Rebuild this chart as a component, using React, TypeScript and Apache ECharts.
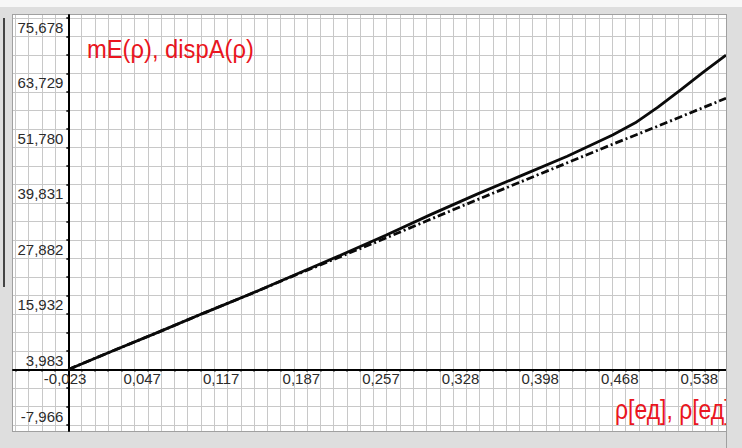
import React, { useEffect, useRef } from "react";
import * as echarts from "echarts";

// ---- data ----
const rhoE = [0, 0.04, 0.08, 0.12, 0.16, 0.2, 0.24, 0.28, 0.32, 0.36, 0.4, 0.44, 0.48, 0.5, 0.52, 0.54, 0.56, 0.58];
const mE = [0, 4.1, 8.1, 12.2, 16.2, 20.4, 24.6, 28.9, 33.4, 37.7, 41.8, 45.9, 50.5, 53.1, 56.5, 60.2, 64.0, 67.7];
const rhoA = [0, 0.04, 0.08, 0.12, 0.16, 0.2, 0.24, 0.28, 0.32, 0.36, 0.4, 0.44, 0.48, 0.52, 0.56, 0.58];
const dispA = [0, 4.1, 8.1, 12.2, 16.2, 20.3, 24.3, 28.3, 32.4, 36.5, 40.5, 44.5, 48.5, 52.4, 56.4, 58.4];

// ---- axis ticks ----
const xTickValues = [-0.0234, 0.0468, 0.117, 0.1872, 0.2574, 0.3276, 0.3978, 0.468, 0.5382];
const xTickLabels = ["-0,023", "0,047", "0,117", "0,187", "0,257", "0,328", "0,398", "0,468", "0,538"];
const yTickValues = [-7.9661, 3.98305, 15.9322, 27.8814, 39.8305, 51.7797, 63.7288, 75.678];
const yTickLabels = ["-7,966", "3,983", "15,932", "27,882", "39,831", "51,780", "63,729", "75,678"];
const xGridStep = 0.0117;
const yGridStep = 3.98305;
const xMin = -0.0488;
const xMax = 0.58;
const yMin = -13.24;
const yMax = 76.32;

const titleText = "mE(ρ), dispA(ρ)";
const xNameText = "ρ[ед], ρ[ед]";

function gridValues(min: number, max: number, step: number): number[] {
  const out: number[] = [];
  for (let k = Math.ceil(min / step); k <= Math.floor(max / step); k++) {
    out.push(+(k * step).toFixed(6));
  }
  return out;
}

function lookup(values: number[], labels: string[], v: number): string {
  for (let i = 0; i < values.length; i++) {
    if (Math.abs(values[i] - v) < 1e-4) return labels[i];
  }
  return "";
}

const FONT = '"Liberation Sans", Arial, sans-serif';
const RED = "#ea1520";

const GRID_LEFT = 13;
const GRID_TOP = 15;
const GRID_W = 713;
const GRID_H = 416;

export default function App() {
  const ref = useRef<HTMLDivElement>(null);
  useEffect(() => {
    document.body.style.margin = "0";
    if (!ref.current) return;
    const chart = echarts.init(ref.current, undefined, { renderer: "svg" });
    const xGrid = gridValues(xMin, xMax, xGridStep);
    const yGrid = gridValues(yMin, yMax, yGridStep);
    // axes cross at zero: shift each axis from the grid edge to the other axis' zero
    const xAxisOffset = -GRID_H * (0 - yMin) / (yMax - yMin);
    const yAxisOffset = -GRID_W * (0 - xMin) / (xMax - xMin);
    chart.setOption({
      animation: false,
      backgroundColor: "transparent",
      grid: {
        left: GRID_LEFT,
        top: GRID_TOP,
        width: GRID_W,
        height: GRID_H,
        containLabel: false,
        outerBoundsMode: "none",
      },
      xAxis: {
        type: "value",
        min: xMin,
        max: xMax,
        position: "bottom",
        offset: xAxisOffset,
        axisLine: { onZero: false, lineStyle: { color: "#000", width: 2 } },
        axisTick: { show: true, customValues: xGrid, length: 2, lineStyle: { color: "#000", width: 1.5 } },
        splitLine: { show: true, lineStyle: { color: "#c8c8c8", width: 1 } },
        axisLabel: {
          customValues: xTickValues,
          formatter: (v: number) => lookup(xTickValues, xTickLabels, v),
          align: "left",
          margin: 1,
          padding: [0, 0, 0, 2],
          fontFamily: FONT,
          fontSize: 15,
          color: "#2b2b2b",
          showMinLabel: true,
          showMaxLabel: true,
        },
      },
      yAxis: {
        type: "value",
        min: yMin,
        max: yMax,
        position: "left",
        offset: yAxisOffset,
        axisLine: { onZero: false, lineStyle: { color: "#000", width: 2 } },
        axisTick: { show: true, customValues: yGrid, length: 2, lineStyle: { color: "#000", width: 1.5 } },
        splitLine: { show: true, lineStyle: { color: "#c8c8c8", width: 1 } },
        axisLabel: {
          customValues: yTickValues,
          formatter: (v: number) => lookup(yTickValues, yTickLabels, v),
          verticalAlign: "top",
          margin: 5,
          padding: [2, 0, 0, 0],
          fontFamily: FONT,
          fontSize: 15,
          color: "#2b2b2b",
          showMinLabel: true,
          showMaxLabel: true,
        },
      },
      series: [
        {
          type: "line",
          name: "mE",
          data: rhoE.map((x, i) => [x, mE[i]]),
          showSymbol: false,
          clip: true,
          lineStyle: { color: "#0a0a0a", width: 2.8 },
          z: 3,
        },
        {
          type: "line",
          name: "dispA",
          data: rhoA.map((x, i) => [x, dispA[i]]),
          showSymbol: false,
          clip: true,
          lineStyle: { color: "#0a0a0a", width: 2.8, type: [8, 3, 2, 3] },
          z: 4,
        },
      ],
      graphic: [
        {
          type: "text",
          x: 87,
          y: 37,
          scaleX: 0.95,
          z: 10,
          style: { text: titleText, fill: RED, fontSize: 25, fontFamily: FONT },
        },
        {
          type: "text",
          x: 615,
          y: 396,
          scaleX: 0.85,
          z: 10,
          style: { text: xNameText, fill: RED, fontSize: 27, fontFamily: FONT },
        },
      ],
    });
    return () => chart.dispose();
  }, []);

  return (
    <div style={{ position: "absolute", left: 0, top: 0, width: 742, height: 448, background: "#dedede", overflow: "hidden" }}>
      <div style={{ position: "absolute", left: 0, top: 0, width: 742, height: 7, background: "#f7f7f7" }} />
      <div style={{ position: "absolute", left: 3, top: 18, width: 1.5, height: 269, background: "#444" }} />
      <div
        style={{
          position: "absolute",
          left: 12,
          top: 14,
          width: 713,
          height: 416,
          background: "#ffffff",
          border: "1px solid #a0a0a0",
        }}
      />
      <div ref={ref} style={{ position: "absolute", left: 0, top: 0, width: 742, height: 448 }} />
      <div
        style={{
          position: "absolute",
          left: 726,
          top: 14,
          width: 16,
          height: 434,
          background: "#dedede",
          borderLeft: "1px solid #a0a0a0",
          boxSizing: "border-box",
        }}
      />
    </div>
  );
}
